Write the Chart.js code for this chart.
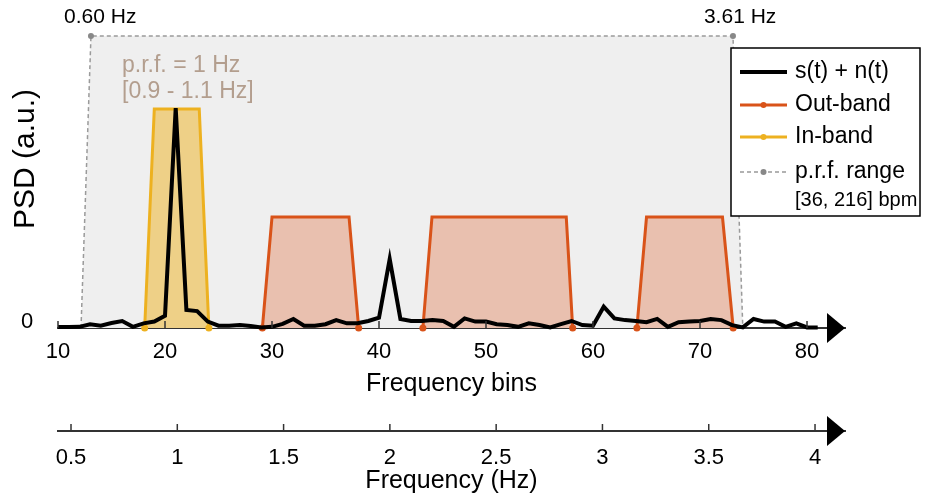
<!DOCTYPE html>
<html>
<head>
<meta charset="utf-8">
<script src="https://cdn.jsdelivr.net/npm/chart.js@4.4.1/dist/chart.umd.min.js"></script>
<style>
  html, body { margin: 0; padding: 0; background: #fff; }
  #wrap { width: 925px; height: 497px; }
</style>
</head>
<body>
<div id="wrap"><canvas id="psd-chart"></canvas></div>
<script>
// --- Data ---
const bins = [10, 11, 12, 13, 14, 15, 16, 17, 18, 19, 20, 21, 22, 23, 24, 25, 26, 27, 28, 29,
  30, 31, 32, 33, 34, 35, 36, 37, 38, 39, 40, 41, 42, 43, 44, 45, 46, 47, 48, 49,
  50, 51, 52, 53, 54, 55, 56, 57, 58, 59, 60, 61, 62, 63, 64, 65, 66, 67, 68, 69,
  70, 71, 72, 73, 74, 75, 76, 77, 78, 79, 80, 81];
const psd = [0.003, 0.003, 0.004, 0.013, 0.008, 0.017, 0.024, 0.004, 0.016, 0.022,
  0.042, 0.753, 0.062, 0.058, 0.022, 0.008, 0.008, 0.010, 0.007, 0.002,
  0.004, 0.014, 0.031, 0.008, 0.008, 0.013, 0.027, 0.016, 0.016, 0.024,
  0.035, 0.236, 0.031, 0.024, 0.024, 0.027, 0.024, 0.004, 0.033, 0.022,
  0.022, 0.013, 0.010, 0.004, 0.016, 0.010, 0.002, 0.013, 0.024, 0.010,
  0.008, 0.073, 0.033, 0.027, 0.024, 0.020, 0.031, 0.004, 0.020, 0.022,
  0.024, 0.031, 0.027, 0.010, 0.002, 0.031, 0.022, 0.022, 0.004, 0.016,
  0.002, 0.002];
const binTicks = [10, 20, 30, 40, 50, 60, 70, 80];
const hzTicks = [0.5, 1, 1.5, 2, 2.5, 3, 3.5, 4];

// band outlines (bin, a.u.)
const prfRangeX = [12.15, 13.08, 73.08, 74.0];
const prfRangeY = [0, 1, 1, 0];
const inBandX = [18.1, 19.0, 23.2, 24.1];
const inBandY = [0, 0.75, 0.75, 0];
const outBand1X = [29.1, 30.0, 37.2, 38.1];
const outBand2X = [44.1, 44.95, 57.5, 58.1];
const outBand3X = [64.1, 65.0, 72.1, 73.1];
const outBandY = [0, 0.38, 0.38, 0];
const prfHzLimits = [0.60, 3.61];

const FONT = "'Liberation Sans', Arial, Helvetica, sans-serif";
const OUT_COLOR = '#D95319';
const IN_COLOR = '#EDB120';

function pts(xs, ys) {
  return xs.map((x, i) => ({ x, y: ys[i] }));
}

function bandDataset(xs, ys, color, fill, order) {
  return {
    data: pts(xs, ys),
    borderColor: color,
    backgroundColor: fill,
    borderWidth: 3,
    fill: 'origin',
    pointRadius: [3.5, 0, 0, 3.5],
    pointBackgroundColor: color,
    pointBorderWidth: 0,
    clip: false,
    order: order
  };
}

// --- Extra drawing: inward ticks, arrows, labels, legend ---
const decorations = {
  id: 'decorations',
  afterDatasetsDraw(chart) {
    const ctx = chart.ctx;
    const area = chart.chartArea;
    const xs = chart.scales.x, x2 = chart.scales.x2, ys = chart.scales.y;
    ctx.save();

    // inward tick marks + arrow heads
    [[xs, binTicks], [x2, hzTicks]].forEach(([sc, ticks]) => {
      const y0 = sc.top;
      ctx.strokeStyle = '#333';
      ctx.lineWidth = 1.5;
      ticks.forEach(v => {
        const px = sc.getPixelForValue(v);
        ctx.beginPath();
        ctx.moveTo(px, y0);
        ctx.lineTo(px, y0 - 7);
        ctx.stroke();
      });
      ctx.fillStyle = '#000';
      ctx.beginPath();
      ctx.moveTo(area.right - 18, y0 - 15);
      ctx.lineTo(area.right, y0);
      ctx.lineTo(area.right - 18, y0 + 15);
      ctx.closePath();
      ctx.fill();
    });

    // y axis: "0" and title
    ctx.fillStyle = '#000';
    ctx.font = '22px ' + FONT;
    ctx.textAlign = 'center';
    ctx.textBaseline = 'middle';
    ctx.fillText('0', 27, ys.getPixelForValue(0) - 6);
    ctx.save();
    ctx.translate(26, 159);
    ctx.rotate(-Math.PI / 2);
    ctx.font = '30px ' + FONT;
    ctx.fillText('PSD (a.u.)', 0, 0);
    ctx.restore();

    // p.r.f. limits on top
    ctx.font = '21px ' + FONT;
    prfHzLimits.forEach(hz => {
      ctx.fillText(hz.toFixed(2) + ' Hz', x2.getPixelForValue(hz) + 8, 17);
    });

    // in-band annotation
    ctx.fillStyle = '#b39e8e';
    ctx.font = '23px ' + FONT;
    ctx.textAlign = 'left';
    ctx.fillText('p.r.f. = 1 Hz', 122, 66);
    ctx.fillText('[0.9 - 1.1 Hz]', 122, 92);

    // legend
    const lx = 731, ly = 48, lw = 189, lh = 168;
    ctx.fillStyle = '#fff';
    ctx.fillRect(lx, ly, lw, lh);
    ctx.strokeStyle = '#000';
    ctx.lineWidth = 1.5;
    ctx.strokeRect(lx, ly, lw, lh);
    const items = [
      { label: 's(t) + n(t)', color: '#000', width: 4, dash: [], dot: null, y: 72 },
      { label: 'Out-band', color: OUT_COLOR, width: 3, dash: [], dot: OUT_COLOR, y: 105 },
      { label: 'In-band', color: IN_COLOR, width: 3, dash: [], dot: IN_COLOR, y: 137 },
      { label: 'p.r.f. range', color: '#999', width: 1.5, dash: [4, 3], dot: '#888', y: 172 }
    ];
    items.forEach(it => {
      ctx.strokeStyle = it.color;
      ctx.lineWidth = it.width;
      ctx.setLineDash(it.dash);
      ctx.beginPath();
      ctx.moveTo(740, it.y);
      ctx.lineTo(787, it.y);
      ctx.stroke();
      ctx.setLineDash([]);
      if (it.dot) {
        ctx.fillStyle = it.dot;
        ctx.beginPath();
        ctx.arc(763.5, it.y, 3, 0, Math.PI * 2);
        ctx.fill();
      }
      ctx.fillStyle = '#000';
      ctx.font = '23px ' + FONT;
      ctx.fillText(it.label, 795, it.y);
    });
    ctx.font = '20px ' + FONT;
    ctx.fillText('[36, 216] bpm', 795, 200);

    ctx.restore();
  }
};

Chart.defaults.font.family = FONT;
Chart.defaults.color = '#000';

new Chart(document.getElementById('psd-chart'), {
  type: 'line',
  data: {
    datasets: [
      {
        label: 's(t) + n(t)',
        data: pts(bins, psd),
        borderColor: '#000',
        borderWidth: 4,
        pointRadius: 0,
        fill: false,
        clip: false,
        order: 0
      },
      bandDataset(inBandX, inBandY, IN_COLOR, 'rgba(237,177,32,0.5)', 1),
      bandDataset(outBand1X, outBandY, OUT_COLOR, 'rgba(217,83,25,0.3)', 1),
      bandDataset(outBand2X, outBandY, OUT_COLOR, 'rgba(217,83,25,0.3)', 1),
      bandDataset(outBand3X, outBandY, OUT_COLOR, 'rgba(217,83,25,0.3)', 1),
      {
        label: 'p.r.f. range',
        data: pts(prfRangeX, prfRangeY),
        borderColor: '#9a9a9a',
        borderWidth: 1.5,
        borderDash: [4, 3],
        backgroundColor: '#efefef',
        fill: 'origin',
        pointRadius: [0, 3, 3, 0],
        pointBackgroundColor: '#888',
        pointBorderWidth: 0,
        clip: false,
        order: 2
      }
    ]
  },
  options: {
    responsive: true,
    maintainAspectRatio: false,
    animation: false,
    layout: { padding: { left: 58, right: 80, top: 36, bottom: 0 } },
    plugins: { legend: { display: false }, tooltip: { enabled: false } },
    elements: { line: { tension: 0 } },
    scales: {
      y: { type: 'linear', min: 0, max: 1, display: false },
      x: {
        type: 'linear', position: 'bottom', weight: 0,
        min: 10, max: 83.55,
        afterBuildTicks: s => { s.ticks = binTicks.map(v => ({ value: v })); },
        afterFit: s => { s.height = 103; },
        grid: { display: false, drawTicks: false },
        border: { display: true, color: '#333', width: 2 },
        ticks: { font: { size: 22 }, padding: 11, maxRotation: 0, autoSkip: false, callback: v => String(v) },
        title: { display: true, text: 'Frequency bins', font: { size: 25 }, padding: { top: 0, bottom: 32 } }
      },
      x2: {
        type: 'linear', position: 'bottom', weight: 1,
        min: 0.4388, max: 4.141,
        afterBuildTicks: s => { s.ticks = hzTicks.map(v => ({ value: v })); },
        afterFit: s => { s.height = 66; },
        grid: { display: false, drawTicks: false },
        border: { display: true, color: '#333', width: 2 },
        ticks: { font: { size: 22 }, padding: 14, maxRotation: 0, autoSkip: false, callback: v => String(v) },
        title: { display: true, text: 'Frequency (Hz)', font: { size: 25 }, padding: { top: 0, bottom: 1 } }
      }
    }
  },
  plugins: [decorations]
});
</script>
</body>
</html>
